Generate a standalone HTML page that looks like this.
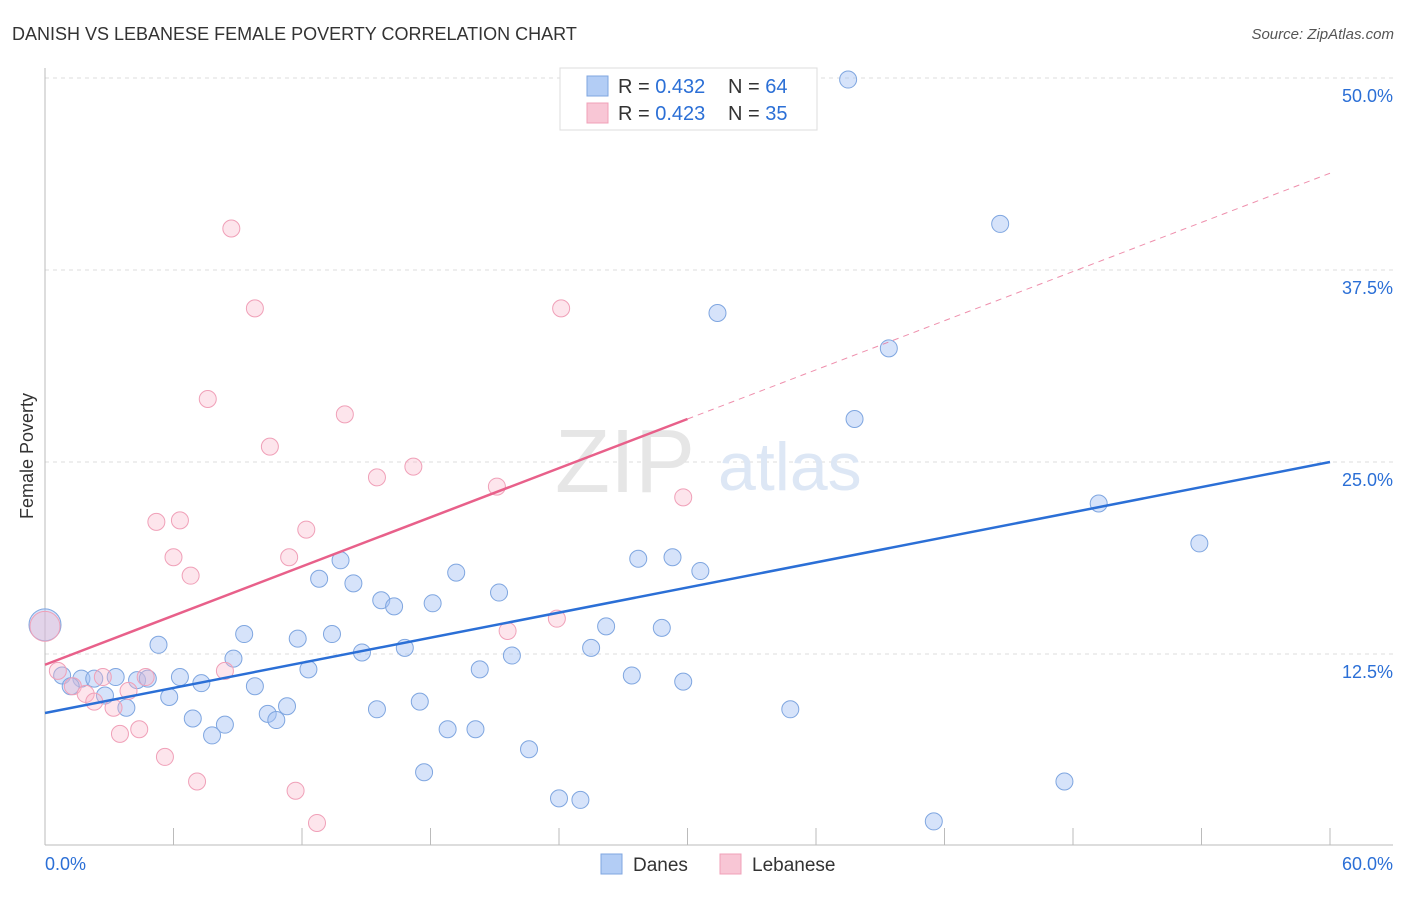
<!DOCTYPE html>
<html><head><meta charset="utf-8"><style>
body{margin:0;background:#fff;font-family:"Liberation Sans",sans-serif;}
svg text{font-family:"Liberation Sans",sans-serif;}
</style></head><body>
<svg id="c" width="1406" height="892" xmlns="http://www.w3.org/2000/svg">
<text x="12" y="40" font-size="18" fill="#333">DANISH VS LEBANESE FEMALE POVERTY CORRELATION CHART</text>
<text x="1394" y="39" font-size="15" fill="#555" text-anchor="end" font-style="italic">Source: ZipAtlas.com</text>
<text x="33" y="456" font-size="18" fill="#333" text-anchor="middle" transform="rotate(-90 33 456)">Female Poverty</text>
<g id="grid"></g>
<g><text x="555" y="492" font-size="90" fill="#e6e6e6" font-family="Liberation Serif,serif">ZIP</text><text x="718" y="490" font-size="68" fill="#dde7f5">atlas</text></g>
<g id="marks"></g>
<g>
<rect x="560" y="68" width="257" height="62" fill="#fff" stroke="#ddd"/>
<rect x="587" y="76" width="21" height="20" fill="#b3cdf5" stroke="#7fa6e0"/>
<rect x="587" y="103" width="21" height="20" fill="#f8c6d5" stroke="#f0a0b8"/>
<text x="618" y="93" font-size="20" fill="#333">R = <tspan fill="#2b6fd6">0.432</tspan><tspan x="728">N = </tspan><tspan fill="#2b6fd6">64</tspan></text>
<text x="618" y="120" font-size="20" fill="#333">R = <tspan fill="#2b6fd6">0.423</tspan><tspan x="728">N = </tspan><tspan fill="#2b6fd6">35</tspan></text>
</g>
<g>
<rect x="601" y="854" width="21" height="20" fill="#b3cdf5" stroke="#7fa6e0"/>
<text x="633" y="871" font-size="19" fill="#333">Danes</text>
<rect x="720" y="854" width="21" height="20" fill="#f8c6d5" stroke="#f0a0b8"/>
<text x="752" y="871" font-size="19" fill="#333">Lebanese</text>
</g>
</svg>
<script>
const yTicks=[12.5,25,37.5,50];
const yTickLabels=["12.5%","25.0%","37.5%","50.0%"];
const xTicks=[0,6,12,18,24,30,36,42,48,54,60];
const danesX=[37.5,44.6,31.4,39.4,37.8,49.2,53.9,13.8,27.7,29.3,30.6,19.2,12.8,14.4,21.2,15.7,16.3,18.1,26.2,28.8,9.3,11.8,13.4,5.3,16.8,14.8,25.5,21.8,8.8,12.3,20.3,27.4,29.8,0.8,1.7,2.3,3.3,4.3,4.8,6.3,7.3,1.2,2.8,5.8,9.8,11.3,10.4,10.8,3.8,6.9,8.4,7.8,15.5,17.5,18.8,20.1,22.6,17.7,24.0,25.0,34.8,41.5,47.6,0];
const danesY=[49.9,40.5,34.7,32.4,27.8,22.3,19.7,18.6,18.7,18.8,17.9,17.8,17.4,17.1,16.5,16.0,15.6,15.8,14.3,14.2,13.8,13.5,13.8,13.1,12.9,12.6,12.9,12.4,12.2,11.5,11.5,11.1,10.7,11.1,10.9,10.9,11.0,10.8,10.9,11.0,10.6,10.4,9.8,9.7,10.4,9.1,8.6,8.2,9.0,8.3,7.9,7.2,8.9,9.4,7.6,7.6,6.3,4.8,3.1,3.0,8.9,1.6,4.2,14.4];
const lebX=[8.7,9.8,24.1,7.6,14.0,10.5,17.2,15.5,21.1,29.8,5.2,6.3,12.2,6.0,11.4,6.8,23.9,21.6,0,0.6,2.7,4.7,8.4,1.3,1.9,3.9,2.3,3.2,3.5,4.4,5.6,7.1,11.7,12.7];
const lebY=[40.2,35.0,35.0,29.1,28.1,26.0,24.7,24.0,23.4,22.7,21.1,21.2,20.6,18.8,18.8,17.6,14.8,14.0,14.3,11.4,11.0,11.0,11.4,10.4,9.9,10.1,9.4,9.0,7.3,7.6,5.8,4.2,3.6,1.5];
const danesLine=[8.66,25.0];
const lebLine=[11.8,43.8];
const lebSolidEnd=30;
const NS="http://www.w3.org/2000/svg";
const X=v=>45+v*(1285/60), Y=v=>846-v*15.36;
const grid=document.getElementById('grid'), marks=document.getElementById('marks');
function mk(p,tag,a){const e=document.createElementNS(NS,tag);for(const k in a)e.setAttribute(k,a[k]);p.appendChild(e);return e;}
yTicks.forEach((t,i)=>{
 const l=mk(grid,'line',{x1:45,x2:1393,y1:Y(t),y2:Y(t),stroke:'#ddd','stroke-dasharray':'4 4'});
 
 
 const tx=mk(grid,'text',{x:1393,y:Y(t)+24,'font-size':18,fill:'#2b6fd6','text-anchor':'end'});
 tx.textContent=yTickLabels[i];
 
 
});
const ax=mk(grid,'line',{x1:45,x2:1393,y1:845,y2:845,stroke:'#bbb'});


const ay=mk(grid,'line',{x1:45,x2:45,y1:68,y2:845,stroke:'#bbb'});


xTicks.forEach(t=>{const l=mk(grid,'line',{x1:X(t),x2:X(t),y1:828,y2:845,stroke:'#bbb'});
 
 });
const xl0=mk(grid,'text',{x:45,y:870,'font-size':18,fill:'#2b6fd6'});xl0.textContent='0.0%';


const xl1=mk(grid,'text',{x:1393,y:870,'font-size':18,fill:'#2b6fd6','text-anchor':'end'});xl1.textContent='60.0%';


danesX.forEach((v,i)=>{const big=(v===0);const c=mk(marks,'circle',{cx:X(v),cy:Y(danesY[i]),r:big?16:8.5,fill:'rgba(164,194,244,0.45)',stroke:'#7fa6e0','stroke-width':1});
 
 });
lebX.forEach((v,i)=>{const big=(v===0);const c=mk(marks,'circle',{cx:X(v),cy:Y(lebY[i]),r:big?15:8.5,fill:'rgba(248,180,200,0.35)',stroke:'#f0a0b8','stroke-width':1});
 
 });
const lebAt=x=>lebLine[0]+(lebLine[1]-lebLine[0])*x/60;
const ld=mk(marks,'line',{x1:X(lebSolidEnd),y1:Y(lebAt(lebSolidEnd)),x2:X(60),y2:Y(lebLine[1]),stroke:'#e8608a','stroke-width':1,'stroke-dasharray':'6 5',opacity:0.7});


const ls=mk(marks,'line',{x1:X(0),y1:Y(lebLine[0]),x2:X(lebSolidEnd),y2:Y(lebAt(lebSolidEnd)),stroke:'#e8608a','stroke-width':2.5});


const bl=mk(marks,'line',{x1:X(0),y1:Y(danesLine[0]),x2:X(60),y2:Y(danesLine[1]),stroke:'#2b6fd6','stroke-width':2.5});


</script>
</body></html>
